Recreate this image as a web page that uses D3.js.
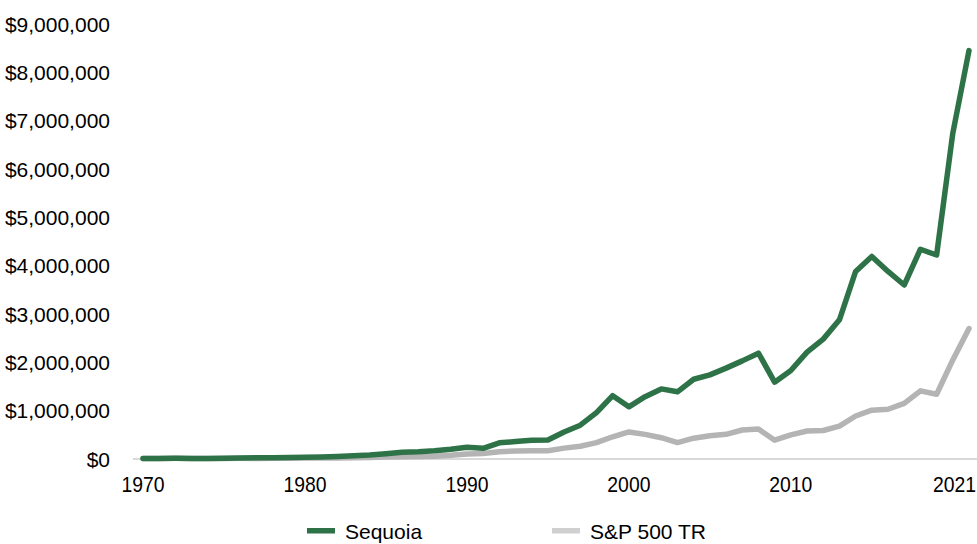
<!DOCTYPE html>
<html>
<head>
<meta charset="utf-8">
<script src="https://cdn.jsdelivr.net/npm/d3@7"></script>
<style>
  html, body { margin: 0; padding: 0; background: #ffffff; }
  svg { display: block; font-family: "Liberation Sans", Arial, sans-serif; }
</style>
</head>
<body>
<svg id="chart" width="977" height="544"></svg>
<script>
// ---- data (values in $) ----
const years = d3.range(1970, 2022);
const sequoia = [
  10000, 12000, 13000, 11000, 10000, 14000, 20000, 24000, 27000, 32000,
  38000, 43000, 52000, 68000, 85000, 110000, 140000, 150000, 170000, 200000,
  245000, 222000, 335000, 360000, 390000, 392000, 560000, 700000, 960000, 1310000,
  1080000, 1290000, 1450000, 1390000, 1650000, 1740000, 1880000, 2030000, 2190000, 1590000,
  1830000, 2210000, 2480000, 2880000, 3880000, 4190000, 3880000, 3600000, 4340000, 4220000,
  6740000, 8450000
];
const sp500 = [
  10000, 11000, 13000, 11000, 8000, 11000, 13000, 12000, 13000, 15000,
  20000, 19000, 23000, 28000, 30000, 39000, 47000, 50000, 58000, 77000,
  105000, 112000, 150000, 165000, 170000, 172000, 225000, 265000, 340000, 460000,
  560000, 510000, 440000, 340000, 430000, 480000, 510000, 600000, 620000, 390000,
  500000, 580000, 590000, 680000, 890000, 1010000, 1030000, 1150000, 1410000, 1340000,
  2050000, 2700000
];
const yTicks = [0, 1000000, 2000000, 3000000, 4000000, 5000000, 6000000, 7000000, 8000000, 9000000];
const xTicks = [1970, 1980, 1990, 2000, 2010, 2021];
const seriesNames = ["Sequoia", "S&P 500 TR"];

// ---- layout ----
const svg = d3.select("#chart");
const x = d3.scaleLinear().domain([1970, 2021]).range([143, 969]);
const y = d3.scaleLinear().domain([0, 9000000]).range([459, 24]);
const fmt = v => "$" + d3.format(",")(v);

// y labels
svg.append("g").selectAll("text").data(yTicks).join("text")
  .attr("x", 110).attr("y", d => y(d)).attr("dy", "0.36em")
  .attr("text-anchor", "end").attr("font-size", 21).attr("fill", "#000")
  .text(fmt);

// baseline
svg.append("line")
  .attr("x1", 133).attr("x2", 977).attr("y1", y(0)).attr("y2", y(0))
  .attr("stroke", "#d9d9d9").attr("stroke-width", 2);

// x labels
svg.append("g").selectAll("text").data(xTicks).join("text")
  .attr("transform", d => `translate(${d === 2021 ? 976 : x(d)},492) scale(0.88,1)`)
  .attr("text-anchor", d => d === 2021 ? "end" : "middle")
  .attr("font-size", 22).attr("fill", "#000")
  .text(d => d);

const line = d3.line().x((d, i) => x(years[i])).y(d => y(d));

svg.append("path").datum(sp500)
  .attr("d", line).attr("fill", "none")
  .attr("stroke", "#b4b4b4").attr("stroke-width", 5.5)
  .attr("stroke-linejoin", "round").attr("stroke-linecap", "round");

svg.append("path").datum(sequoia)
  .attr("d", line).attr("fill", "none")
  .attr("stroke", "#2e7348").attr("stroke-width", 5.5)
  .attr("stroke-linejoin", "round").attr("stroke-linecap", "round");

// legend
const legend = [
  { name: seriesNames[0], color: "#2e7348", x: 307 },
  { name: seriesNames[1], color: "#d0d0d0", x: 552 }
];
const lg = svg.append("g").selectAll("g").data(legend).join("g");
lg.append("rect").attr("x", d => d.x).attr("y", 528).attr("width", 28).attr("height", 5.5)
  .attr("fill", d => d.color);
lg.append("text").attr("x", d => d.x + 38).attr("y", 538.5)
  .attr("font-size", 21).attr("fill", "#000").text(d => d.name);
</script>
</body>
</html>
